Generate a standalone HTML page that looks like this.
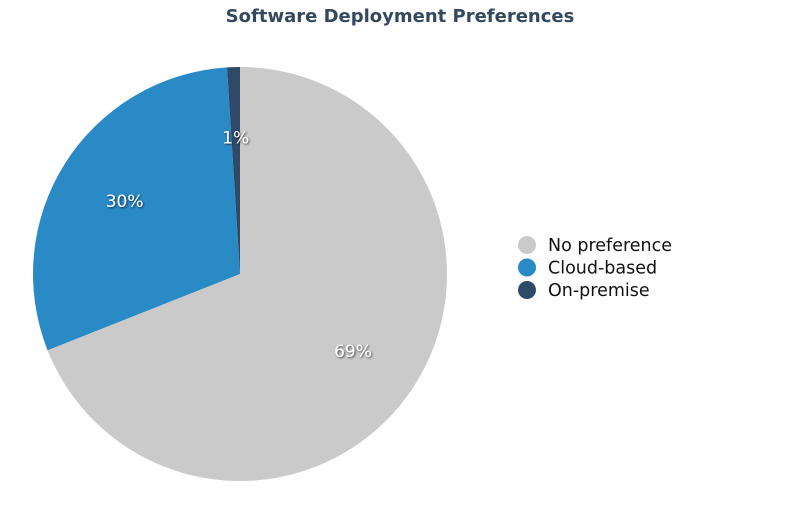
<!DOCTYPE html>
<html><head><meta charset="utf-8"><style>
body{margin:0;background:#fff;width:800px;height:505px;overflow:hidden}
svg{font-family:"DejaVu Sans","Liberation Sans",sans-serif}
</style></head><body>
<svg id="chart" width="800" height="505">
<defs><filter id="sh" x="-20%" y="-20%" width="140%" height="140%"><feDropShadow dx="1" dy="1" stdDeviation="1" flood-color="#000" flood-opacity="0.7"/></filter></defs>
<text x="400" y="22" text-anchor="middle" font-size="18" font-weight="bold" fill="#34495e">Software Deployment Preferences</text>
<g id="slices"></g><g id="labels"></g><g id="legend"></g>
</svg>
<script>
const categories=["No preference","Cloud-based","On-premise"];
const values=[69,30,1];
const colors=["#cacaca","#2a8ac6","#2f4a68"];
const cx=240,cy=274,r=207;
const ns="http://www.w3.org/2000/svg";
const total=values.reduce((a,b)=>a+b,0);
let a0=0;
const S=document.getElementById('slices'),L=document.getElementById('labels'),G=document.getElementById('legend');
function pt(a,rr){return [cx+rr*Math.sin(a),cy-rr*Math.cos(a)];}
values.forEach((v,i)=>{
 const a1=a0+v/total*2*Math.PI;
 const p0=pt(a0,r),p1=pt(a1,r);
 const p=document.createElementNS(ns,'path');
 p.setAttribute('d',`M${cx},${cy}L${p0[0]},${p0[1]}A${r},${r} 0 ${a1-a0>Math.PI?1:0} 1 ${p1[0]},${p1[1]}Z`);
 p.setAttribute('fill',colors[i]);
 
 
 S.appendChild(p);
 const m=pt((a0+a1)/2,r*0.66);
 const t=document.createElementNS(ns,'text');
 t.setAttribute('x',m[0]);t.setAttribute('y',m[1]+6);
 t.setAttribute('text-anchor','middle');t.setAttribute('font-size','17');
 t.setAttribute('fill','#fff');t.setAttribute('filter','url(#sh)');
 t.textContent=Math.round(v/total*100)+'%';
 
 
 L.appendChild(t);
 const c=document.createElementNS(ns,'circle');
 c.setAttribute('cx',527);c.setAttribute('cy',245+i*22.5);c.setAttribute('r',9);c.setAttribute('fill',colors[i]);
 
 
 G.appendChild(c);
 const lt=document.createElementNS(ns,'text');
 lt.setAttribute('x',548);lt.setAttribute('y',251+i*22.5);lt.setAttribute('font-size','17.5');lt.setAttribute('fill','#111');
 lt.textContent=categories[i];
 
 
 G.appendChild(lt);
 a0=a1;
});
</script>
</body></html>
